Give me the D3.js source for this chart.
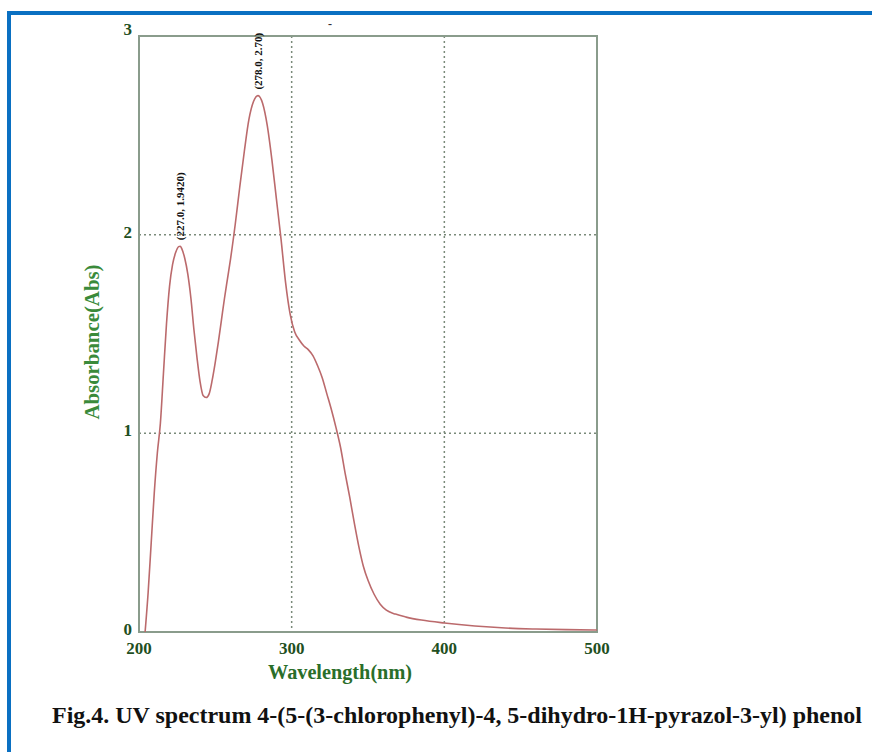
<!DOCTYPE html>
<meta charset="utf-8">
<style>
    body {margin: 0; background: #fff;}
    svg text {font-family: 'Liberation Serif', 'Times New Roman', serif; font-weight: bold;}
</style>

<svg width="872" height="752"></svg>

<script src="https://cdnjs.cloudflare.com/ajax/libs/d3/7.8.5/d3.min.js"></script>
<script>

// spectrum
var wavelength = [204, 206, 208, 210, 212, 214, 216, 218, 220, 222, 224, 226, 227, 228, 230, 232, 234, 236, 238, 240,
                  242, 244, 246, 248, 250, 252, 254, 256, 258, 260, 263, 266, 269, 272, 275, 278, 281, 284, 287, 290,
                  293, 296, 299, 302, 305, 308, 311, 314, 317, 320, 323, 326, 329, 332, 335, 338, 341, 344, 347, 350,
                  354, 358, 362, 368, 375, 385, 400, 420, 440, 460, 480, 500];
var absorbance = [0, 0.2, 0.45, 0.7, 0.9, 1.05, 1.3, 1.55, 1.74, 1.85, 1.91, 1.94, 1.942, 1.93, 1.88, 1.8, 1.68, 1.52, 1.38, 1.26,
                  1.19, 1.18, 1.2, 1.27, 1.36, 1.46, 1.57, 1.68, 1.78, 1.88, 2.05, 2.24, 2.42, 2.58, 2.67, 2.7, 2.66, 2.55, 2.38, 2.18,
                  1.98, 1.76, 1.6, 1.51, 1.47, 1.44, 1.42, 1.39, 1.34, 1.28, 1.2, 1.12, 1.03, 0.93, 0.8, 0.68, 0.55, 0.43, 0.33, 0.26,
                  0.19, 0.14, 0.11, 0.09, 0.075, 0.06, 0.045, 0.03, 0.02, 0.015, 0.012, 0.01];

var peakX = [227, 278];
var peakY = [1.942, 2.70];
var peakLabels = ["(227.0, 1.9420)", "(278.0, 2.70)"];

var xTicks = [200, 300, 400, 500];
var yTicks = [0, 1, 2, 3];
var xTitle = "Wavelength(nm)";
var yTitle = "Absorbance(Abs)";
var caption = "Fig.4. UV spectrum 4-(5-(3-chlorophenyl)-4, 5-dihydro-1H-pyrazol-3-yl) phenol";

var svg = d3.select("svg");

var x = d3.scaleLinear().domain([200, 500]).range([139, 597]);
var y = d3.scaleLinear().domain([0, 3]).range([632, 36]);

// blue frame of the figure
svg.append("rect").attr("x", 7).attr("y", 11).attr("width", 865).attr("height", 4).attr("fill", "#0a70c2");
svg.append("rect").attr("x", 7).attr("y", 11).attr("width", 4).attr("height", 741).attr("fill", "#0a70c2");

// dotted grid
svg.append("g")
    .selectAll("line")
    .data(xTicks.filter(function(d) { return d > 200 && d < 500; }))
    .enter().append("line")
    .attr("x1", function(d) { return x(d); })
    .attr("x2", function(d) { return x(d); })
    .attr("y1", y(3))
    .attr("y2", y(0))
    .attr("stroke", "#7a8a7a")
    .attr("stroke-width", 1.5)
    .attr("stroke-dasharray", "2,3");

svg.append("g")
    .selectAll("line")
    .data(yTicks.filter(function(d) { return d > 0 && d < 3; }))
    .enter().append("line")
    .attr("x1", x(200))
    .attr("x2", x(500))
    .attr("y1", function(d) { return y(d); })
    .attr("y2", function(d) { return y(d); })
    .attr("stroke", "#7a8a7a")
    .attr("stroke-width", 1.5)
    .attr("stroke-dasharray", "2,3");

// plot box
svg.append("rect")
    .attr("x", x(200)).attr("y", y(3))
    .attr("width", x(500) - x(200)).attr("height", y(0) - y(3))
    .attr("fill", "none")
    .attr("stroke", "#8a9c8c")
    .attr("stroke-width", 2);

// tick labels
svg.append("g")
    .selectAll("text")
    .data(xTicks)
    .enter().append("text")
    .attr("x", function(d) { return x(d); })
    .attr("y", 654)
    .attr("text-anchor", "middle")
    .attr("font-size", "17px")
    .attr("fill", "#1f4f22")
    .text(function(d) { return d; });

svg.append("g")
    .selectAll("text")
    .data(yTicks)
    .enter().append("text")
    .attr("x", 132)
    .attr("y", function(d) { return d == 3 ? y(d) - 1 : y(d) + 3; })
    .attr("text-anchor", "end")
    .attr("font-size", "17px")
    .attr("fill", "#1f4f22")
    .text(function(d) { return d; });

// axis titles
svg.append("text")
    .attr("x", 340)
    .attr("y", 679)
    .attr("text-anchor", "middle")
    .attr("font-size", "20px")
    .attr("fill", "#2a6e2a")
    .attr("textLength", 144)
    .attr("lengthAdjust", "spacingAndGlyphs")
    .text(xTitle);

svg.append("text")
    .attr("transform", "translate(99," + 342 + ") rotate(-90)")
    .attr("text-anchor", "middle")
    .attr("font-size", "20px")
    .attr("fill", "#3a8a3a")
    .attr("textLength", 155)
    .attr("lengthAdjust", "spacingAndGlyphs")
    .text(yTitle);

// the spectrum
var line = d3.line()
    .x(function(d, i) { return x(wavelength[i]); })
    .y(function(d) { return y(d); })
    .curve(d3.curveMonotoneX);

svg.append("path")
    .datum(absorbance)
    .attr("d", line)
    .attr("fill", "none")
    .attr("stroke", "#bb6a6c")
    .attr("stroke-width", 1.6);

// peak labels, vertical
svg.append("g")
    .selectAll("text")
    .data(peakLabels)
    .enter().append("text")
    .attr("transform", function(d, i) {
        return "translate(" + (x(peakX[i]) + 4) + "," + (y(peakY[i]) - 6) + ") rotate(-90)";
    })
    .attr("font-size", "11px")
    .attr("fill", "#111")
    .text(function(d) { return d; });

// stray mark above the plot
svg.append("text")
    .attr("x", 330)
    .attr("y", 28)
    .attr("text-anchor", "middle")
    .attr("font-size", "12px")
    .attr("fill", "#333")
    .text("-");

// caption
svg.append("text")
    .attr("x", 52)
    .attr("y", 723)
    .attr("font-size", "23px")
    .attr("fill", "#111")
    .attr("textLength", 810)
    .attr("lengthAdjust", "spacingAndGlyphs")
    .text(caption);

</script>
